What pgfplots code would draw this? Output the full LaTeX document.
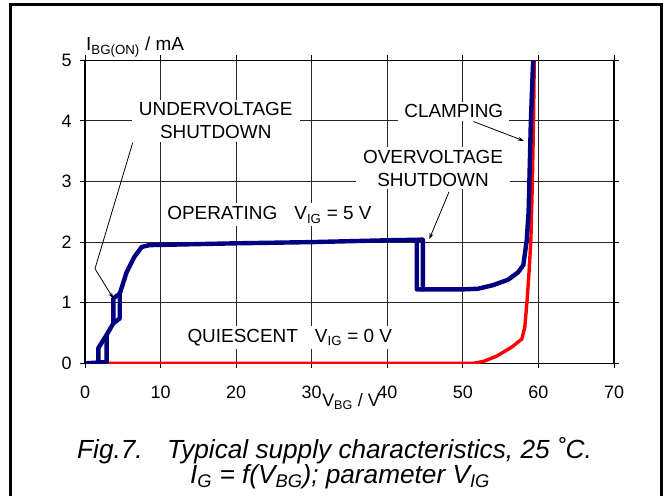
\documentclass[border=0pt]{standalone}
\usepackage{fontspec}
\setmainfont{Liberation Sans}
\usepackage{pgfplots}
\pgfplotsset{compat=1.18}
\usetikzlibrary{arrows.meta}
\definecolor{navyb}{RGB}{0,0,128}
\newcommand{\annot}{\fontsize{19}{23}\selectfont}
\newcommand{\capf}{\fontsize{26.3}{27}\selectfont\itshape}
\begin{document}
\begin{tikzpicture}
\useasboundingbox (0bp,0bp) rectangle (665bp,496bp);
\draw[line width=3bp] (10bp,-10bp) -- (10bp,491.5bp) -- (661.5bp,491.5bp) -- (661.5bp,-10bp);
\begin{axis}[
  at={(85bp,132.7bp)}, anchor=south west, scale only axis,
  width=529bp, height=303bp,
  xmin=0, xmax=70, ymin=0, ymax=5,
  xtick={0,10,...,70}, ytick={0,1,...,5},
  grid=major, major grid style={black!85, line width=1bp},
  axis line style={line width=1.3bp},
  tick align=outside, major tick length=5bp,
  every tick/.style={black, line width=1bp},
  tick label style={font=\fontsize{18}{18}\selectfont},
  /pgf/number format/assume math mode=true,
  xticklabel style={yshift=-14bp},
  yticklabel style={xshift=-5bp},
  line join=round,
]
% QUIESCENT (V_IG = 0 V)
\addplot[red, line width=3.4bp] coordinates {
(0,0) (51.4,0) (52.7,0.03) (54.5,0.12) (56.5,0.27) (57.8,0.40) (58.2,0.60)
(58.5,1.04) (58.75,1.49) (59.0,2.03) (59.2,3.0) (59.35,4.0) (59.45,5.0)};
% OPERATING (V_IG = 5 V), rising branch
\addplot[navyb, line width=4.4bp] coordinates {
(0,0) (2.87,0.02) (2.87,0.47) (3.75,0.66) (4.6,0.74) (4.6,1.15) (5.5,1.5)
(6.5,1.75) (7.5,1.92) (8.5,1.95) (20,1.98) (30,2.0) (40,2.03) (44.7,2.04)
(44.7,1.22) (50,1.22) (52,1.23) (54,1.29) (56,1.38) (57.3,1.5) (58.0,1.62)
(58.45,2.03) (58.7,2.5) (59.0,4.0) (59.3,5.0)};
% falling branch (hysteresis)
\addplot[navyb, line width=4.4bp] coordinates {(1.76,0) (1.76,0.25) (2.87,0.47)};
\addplot[navyb, line width=4.4bp] coordinates {(3.75,0.66) (3.75,1.07) (4.6,1.15)};
\addplot[navyb, line width=4.4bp] coordinates {(44.7,1.22) (43.9,1.22) (43.9,2.03) (44.7,2.04)};

\node[fill=white, align=center, inner xsep=7bp, inner ysep=3bp, font=\annot] at (axis cs:17.3,4.0) {UNDERVOLTAGE\\SHUTDOWN};
\node[fill=white, align=center, inner xsep=6bp, inner ysep=3bp, font=\annot] at (axis cs:48.8,4.16) {CLAMPING};
\node[fill=white, align=center, inner xsep=7bp, inner ysep=3bp, font=\annot] at (axis cs:46.05,3.22) {OVERVOLTAGE\\SHUTDOWN};
\node[fill=white, inner xsep=6bp, inner ysep=3bp, font=\annot] at (axis cs:24.4,2.45) {OPERATING\hspace{0.9em}V\textsubscript{IG} = 5 V};
\node[fill=white, inner xsep=6bp, inner ysep=3bp, font=\annot] at (axis cs:27.1,0.43) {QUIESCENT\hspace{0.9em}V\textsubscript{IG} = 0 V};

\draw[-{Stealth[length=6bp,width=4bp]}, line width=0.8bp] (axis cs:6.31,3.64) -- (axis cs:1.32,1.56) -- (axis cs:3.75,1.07);
\draw[-{Stealth[length=6bp,width=4bp]}, line width=0.8bp] (axis cs:51.4,3.99) -- (axis cs:58.08,3.67);
\draw[-{Stealth[length=6bp,width=4bp]}, line width=0.8bp] (axis cs:48.17,2.83) -- (axis cs:45.56,2.05);
\end{axis}
\node[anchor=base west, inner sep=0pt, font=\fontsize{19}{19}\selectfont] at (86bp,445bp) {I\textsubscript{BG(ON)} / mA};
\node[anchor=base, inner sep=0pt, font=\fontsize{18}{18}\selectfont] at (351bp,89bp) {V\textsubscript{BG} / V};
\node[anchor=base west, inner sep=0pt, font=\capf] at (77bp,38bp) {Fig.7.};
\node[anchor=base west, inner sep=0pt, font=\capf] at (167bp,38bp) {Typical supply characteristics, 25 ˚C.};
\node[anchor=base west, inner sep=0pt, font=\capf] at (190bp,13bp) {I\textsubscript{G} = f(V\textsubscript{BG}); parameter V\textsubscript{IG}};
\end{tikzpicture}
\end{document}
